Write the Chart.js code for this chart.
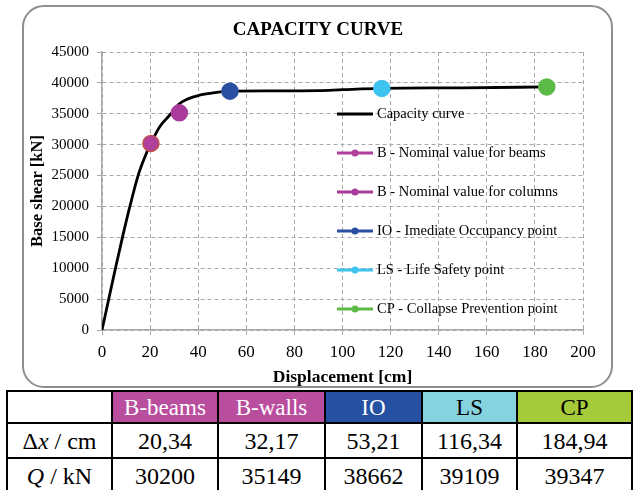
<!DOCTYPE html>
<html>
<head>
<meta charset="utf-8">
<script src="https://cdn.jsdelivr.net/npm/chart.js@4.4.1/dist/chart.umd.min.js"></script>
<style>
  html, body { margin: 0; padding: 0; width: 633px; height: 490px; overflow: hidden; background: #fff; }
  #frame { position: absolute; left: 22px; top: 5px; width: 587px; height: 379px;
           border: 2px solid #8e8e8e; border-radius: 22px; }
  #chart { position: absolute; left: 0; top: 0; }
  table { position: absolute; left: 6px; top: 390px; border-collapse: collapse; table-layout: fixed;
          font-family: 'Liberation Serif', serif; font-size: 24px; color: #000; }
  td { font-family: 'Liberation Serif', serif; border: 2px solid #000; text-align: center; padding: 0; line-height: 1; }
  tr.head td { height: 30px; font-size: 23px; }
  tr.row td { height: 33px; }
  .hb { background: #b94e9f; color: #fff; }
  .hio { background: #2651a3; color: #fff; }
  .hls { background: #86d3e0; }
  .hcp { background: #a5ca3a; }
</style>
</head>
<body>
<div id="frame"></div>
<canvas id="chart" width="633" height="390"></canvas>
<table id="tbl">
  <colgroup>
    <col style="width:105px"><col style="width:106px"><col style="width:107px">
    <col style="width:97px"><col style="width:95px"><col style="width:115px">
  </colgroup>
  <tr class="head" id="headRow"><td></td></tr>
  <tr class="row" id="dispRow"><td>&Delta;<i>x</i> / cm</td></tr>
  <tr class="row" id="shearRow"><td><i>Q</i> / kN</td></tr>
</table>
<script>
// Pushover capacity curve (displacement in cm, base shear in kN)
const curveDisp  = [0, 2.8, 5.6, 8.5, 11.6, 15, 17.6, 20.34, 24, 28.7, 32.17, 36, 40, 45, 53.21, 70, 90, 100, 116.34, 150, 184.94];
const curveShear = [0, 5000, 10000, 15000, 20000, 25000, 27800, 30200, 32900, 35000, 36600, 37450, 37950, 38300, 38662, 38700, 38750, 38900, 39109, 39200, 39347];

// Performance points
const pointHeaders = ['B-beams', 'B-walls', 'IO', 'LS', 'CP'];
const pointLegend  = ['B - Nominal value for beams', 'B - Nominal value for columns',
                      'IO - Imediate Occupancy point', 'LS - Life Safety point',
                      'CP - Collapse Prevention point'];
const pointDisp    = [20.34, 32.17, 53.21, 116.34, 184.94];
const pointShear   = [30200, 35149, 38662, 39109, 39347];
const pointColors  = ['#b0409b', '#a93b9a', '#2a4fa3', '#3ec4f0', '#5cba47'];
const pointBorders = ['#c0504d', '#a93b9a', '#2a4fa3', '#3ec4f0', '#5cba47'];
const headerClass  = ['hb', 'hb', 'hio', 'hls', 'hcp'];

// Axis ranges
const xMax = 200, xStep = 20;
const yMax = 45000, yStep = 5000;
const chartTitle = 'CAPACITY CURVE';

const fmt = v => String(v).replace('.', ',');

// Build the summary table
const headRow = document.getElementById('headRow');
const dispRow = document.getElementById('dispRow');
const shearRow = document.getElementById('shearRow');
pointHeaders.forEach((h, i) => {
  const th = document.createElement('td'); th.textContent = h; th.className = headerClass[i]; headRow.appendChild(th);
  const d = document.createElement('td'); d.textContent = fmt(pointDisp[i].toFixed(2)); dispRow.appendChild(d);
  const q = document.createElement('td'); q.textContent = pointShear[i]; shearRow.appendChild(q);
});

const serif = "'Liberation Serif', serif";
Chart.defaults.font.family = serif;
Chart.defaults.color = '#000';

const datasets = [{
  label: 'Capacity curve',
  data: curveDisp.map((x, i) => ({ x, y: curveShear[i] })),
  showLine: true,
  borderColor: '#000',
  backgroundColor: '#000',
  borderWidth: 2.8,
  pointRadius: 0,
  cubicInterpolationMode: 'monotone',
  order: 10
}];
pointLegend.forEach((lbl, i) => {
  datasets.push({
    label: lbl,
    data: [{ x: pointDisp[i], y: pointShear[i] }],
    backgroundColor: pointColors[i],
    borderColor: pointBorders[i],
    borderWidth: 1.5,
    pointRadius: 8,
    showLine: false,
    order: 1
  });
});

// Title centred on the whole frame
const frameTitle = {
  id: 'frameTitle',
  afterDraw(chart) {
    const { ctx } = chart;
    ctx.save();
    ctx.font = 'bold 19px ' + serif;
    ctx.fillStyle = '#000';
    ctx.textAlign = 'center';
    ctx.textBaseline = 'middle';
    ctx.fillText(chartTitle, 318, 30);
    ctx.restore();
  }
};

// Legend drawn inside the plot area, line-with-marker style
const insideLegend = {
  id: 'insideLegend',
  afterDatasetsDraw(chart) {
    const { ctx, chartArea } = chart;
    const x0 = chartArea.left + 235, len = 36;
    let y = chartArea.top + 62;
    ctx.save();
    ctx.font = '14.5px ' + serif;
    ctx.textBaseline = 'middle';
    chart.data.datasets.forEach((ds, i) => {
      const col = i === 0 ? '#000' : pointColors[i - 1];
      ctx.strokeStyle = col;
      ctx.lineWidth = 3;
      ctx.beginPath(); ctx.moveTo(x0, y); ctx.lineTo(x0 + len, y); ctx.stroke();
      if (i > 0) {
        ctx.fillStyle = col;
        ctx.beginPath(); ctx.arc(x0 + len / 2, y, 3.5, 0, Math.PI * 2); ctx.fill();
      }
      ctx.fillStyle = '#000';
      ctx.fillText(ds.label, x0 + len + 4, y);
      y += 39;
    });
    ctx.restore();
  }
};

new Chart(document.getElementById('chart'), {
  type: 'scatter',
  data: { datasets },
  plugins: [insideLegend, frameTitle],
  options: {
    responsive: false,
    animation: false,
    layout: { padding: { left: 24, right: 50, top: 52, bottom: 0 } },
    plugins: {
      legend: { display: false },
      tooltip: { enabled: false },
      title: { display: false }
    },
    scales: {
      x: {
        type: 'linear', min: 0, max: xMax,
        ticks: { stepSize: xStep, font: { family: serif, size: 17 }, color: '#000', padding: 7,
                 callback: v => String(v) },
        grid: { color: '#a8a8a8', lineWidth: 1, tickLength: 5, tickColor: '#a8a8a8' },
        border: { color: '#a8a8a8', width: 1.5, dash: [4, 3] },
        title: { display: true, text: 'Displacement [cm]', color: '#000',
                 font: { family: serif, size: 17.5, weight: 'bold' }, padding: { top: 0, bottom: 2 } },
        afterFit(s) { s.height = 60; }
      },
      y: {
        type: 'linear', min: 0, max: yMax,
        ticks: { stepSize: yStep, font: { family: serif, size: 15 }, color: '#000', padding: 8,
                 callback: v => String(v) },
        grid: { color: '#a8a8a8', lineWidth: 1, tickLength: 5, tickColor: '#a8a8a8' },
        border: { color: '#a8a8a8', width: 1.5, dash: [4, 3] },
        title: { display: true, text: 'Base shear [kN]', color: '#000',
                 font: { family: serif, size: 16.5, weight: 'bold' }, padding: { top: 4, bottom: 4 } },
        afterFit(s) { s.width = 78; }
      }
    }
  }
});
</script>
</body>
</html>
